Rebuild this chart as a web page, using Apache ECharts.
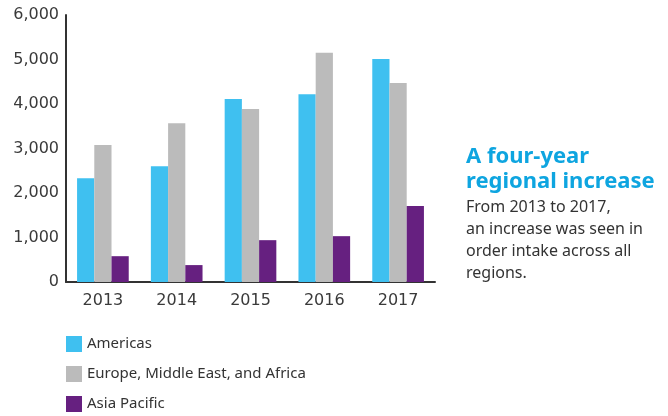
<!DOCTYPE html>
<html>
<head>
<meta charset="utf-8">
<script src="https://cdn.jsdelivr.net/npm/echarts@6/dist/echarts.min.js"></script>
<style>
html, body { margin: 0; padding: 0; background: #fff; }
#chart { width: 668px; height: 416px; }
</style>
</head>
<body>
<div id="chart"></div>
<script>
// 年份
var years = ['2013', '2014', '2015', '2016', '2017'];
// 各地区订单
var americas = [2330, 2600, 4110, 4220, 5010];
var emea = [3080, 3570, 3890, 5150, 4470];
var asiaPacific = [580, 380, 940, 1030, 1710];
var seriesNames = ['Americas', 'Europe, Middle East, and Africa', 'Asia Pacific'];
var seriesColors = ['#3FC0F0', '#BBBBBB', '#662080'];
var noteTitle = ['A four-year', 'regional increase'];
var noteBody = ['From 2013 to 2017,', 'an increase was seen in', 'order intake across all', 'regions.'];

var myChart = echarts.init(document.getElementById('chart'));

var series = [americas, emea, asiaPacific].map(function (d, i) {
    return {
        name: seriesNames[i],
        type: 'bar',
        data: d,
        barGap: '0%',
        barCategoryGap: '30%',
        itemStyle: { color: seriesColors[i] }
    };
});

var axisFont = '"DejaVu Sans", Verdana, sans-serif';

var option = {
    animation: false,
    grid: { left: 66, right: 233, top: 15, bottom: 134 },
    legend: {
        orient: 'vertical',
        left: 61,
        top: 331,
        height: 84,
        itemWidth: 16,
        itemHeight: 16,
        itemGap: 14,
        icon: 'rect',
        textStyle: { color: '#333', fontSize: 15, fontFamily: 'Noto Sans' },
        data: seriesNames
    },
    xAxis: {
        type: 'category',
        data: years,
        axisTick: { show: false },
        axisLine: { lineStyle: { color: '#333', width: 2 } },
        axisLabel: { color: '#3a3a3a', fontSize: 16, fontFamily: axisFont, margin: 11 }
    },
    yAxis: {
        type: 'value',
        min: 0,
        max: 6000,
        interval: 1000,
        splitLine: { show: false },
        axisTick: { show: false },
        axisLine: { show: true, lineStyle: { color: '#333', width: 2 } },
        axisLabel: {
            color: '#3a3a3a', fontSize: 16, fontFamily: axisFont, margin: 7,
            formatter: function (v) { return v.toLocaleString('en-US'); }
        }
    },
    graphic: [
        {
            type: 'text', left: 466, top: 144,
            style: {
                text: noteTitle.join('\n'), fill: '#0EA5E0',
                font: 'bold 22px "Noto Sans"', lineHeight: 25
            }
        },
        {
            type: 'text', left: 466, top: 196,
            style: {
                text: noteBody.join('\n'), fill: '#333',
                font: '16px "Noto Sans"', lineHeight: 22
            }
        }
    ],
    series: series
};
myChart.setOption(option);
</script>
</body>
</html>
